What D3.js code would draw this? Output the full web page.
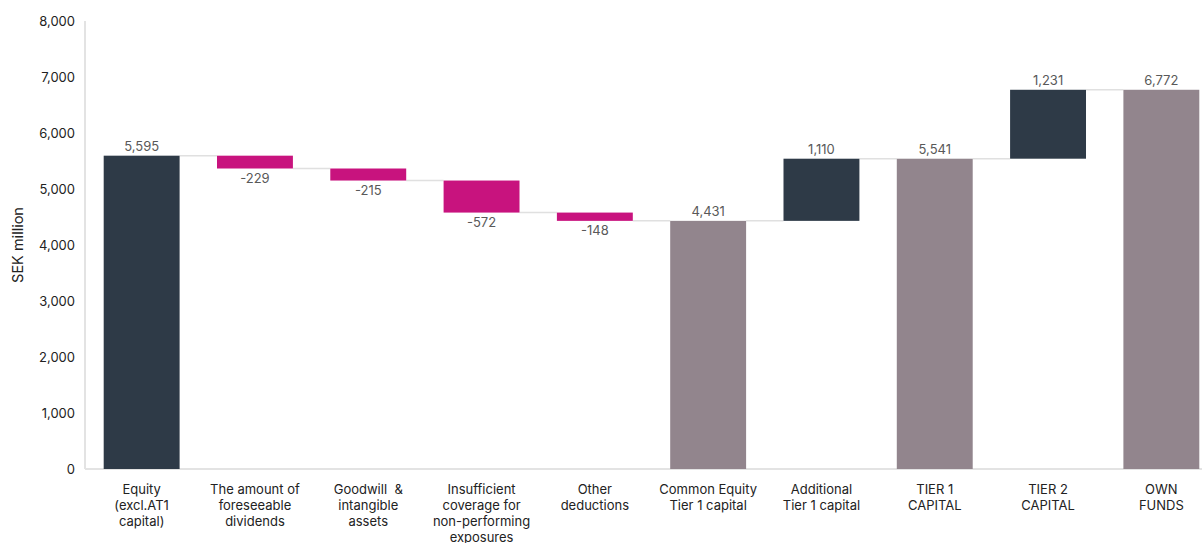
<!DOCTYPE html>
<html><head><meta charset="utf-8">
<script src="https://cdn.jsdelivr.net/npm/d3@7"></script>
<style>body{margin:0;background:#fff;font-family:Inter,"Noto Sans",sans-serif;} text{white-space:pre;}</style>
</head><body><svg id="c" width="1202" height="543"></svg>
<script>
const categories = [
  ["Equity","(excl.AT1","capital)"],
  ["The amount of","foreseeable","dividends"],
  ["Goodwill  &","intangible","assets"],
  ["Insufficient","coverage for","non-performing","exposures"],
  ["Other","deductions"],
  ["Common Equity","Tier 1 capital"],
  ["Additional","Tier 1 capital"],
  ["TIER 1","CAPITAL"],
  ["TIER 2","CAPITAL"],
  ["OWN","FUNDS"]
];
const values = [5595, -229, -215, -572, -148, 4431, 1110, 5541, 1231, 6772];
const kinds = ["start","neg","neg","neg","neg","total","pos","total","pos","total"];
const yTicks = [0,1000,2000,3000,4000,5000,6000,7000,8000];

const colors = {start:"#2E3A47", pos:"#2E3A47", neg:"#C8137E", total:"#92858D"};
const svg = d3.select("#c");
const x = d3.scaleBand().domain(d3.range(categories.length)).range([85, 1218]).paddingInner(0.33).paddingOuter(0.165);
const y = d3.scaleLinear().domain([0, 8000]).range([469, 21]);

let run = 0;
const bars = values.map((v, i) => {
  let y0, y1;
  if (kinds[i] === "start" || kinds[i] === "total") { y0 = 0; y1 = v; run = v; }
  else { y0 = run; y1 = run + v; run = y1; }
  return {i, v, y0, y1, end: run, kind: kinds[i]};
});

svg.append("line").attr("x1",85).attr("x2",85).attr("y1",21).attr("y2",469).attr("stroke","#e3e3e3").attr("stroke-width",2);
svg.append("line").attr("x1",85).attr("x2",1202).attr("y1",469).attr("y2",469).attr("stroke","#e3e3e3").attr("stroke-width",2);

svg.append("g").selectAll("text").data(yTicks).join("text")
  .attr("x",75).attr("y",d=>y(d)).attr("dy","0.35em").attr("text-anchor","end")
  .attr("font-size",13).attr("fill","#222").text(d=>d3.format(",")(d));

svg.append("text").attr("transform","translate(23,245) rotate(-90)").attr("text-anchor","middle")
  .attr("font-size",14.5).attr("fill","#222").text("SEK million");

svg.append("g").selectAll("line").data(bars.slice(0,-1)).join("line")
  .attr("x1",d=>x(d.i)+x.bandwidth()).attr("x2",d=>x(d.i+1))
  .attr("y1",d=>y(d.end)).attr("y2",d=>y(d.end))
  .attr("stroke","#e0e0e0").attr("stroke-width",1.5);

svg.append("g").selectAll("rect").data(bars).join("rect")
  .attr("x",d=>x(d.i)).attr("width",x.bandwidth())
  .attr("y",d=>y(Math.max(d.y0,d.y1))).attr("height",d=>Math.abs(y(d.y0)-y(d.y1)))
  .attr("fill",d=>colors[d.kind]);

svg.append("g").selectAll("text").data(bars).join("text")
  .attr("x",d=>x(d.i)+x.bandwidth()/2)
  .attr("y",d=>d.v<0 ? y(Math.min(d.y0,d.y1))+14 : y(Math.max(d.y0,d.y1))-5)
  .attr("text-anchor","middle").attr("font-size",13).attr("fill","#595959")
  .text(d=>d3.format(",")(d.v).replace("−","-"));

const cg = svg.append("g");
categories.forEach((lines, i) => {
  const t = cg.append("text").attr("text-anchor","middle").attr("font-size",13).attr("fill","#222");
  lines.forEach((l, j) => t.append("tspan").attr("x", x(i)+x.bandwidth()/2).attr("y", 494 + j*16).text(l));
});
</script></body></html>
